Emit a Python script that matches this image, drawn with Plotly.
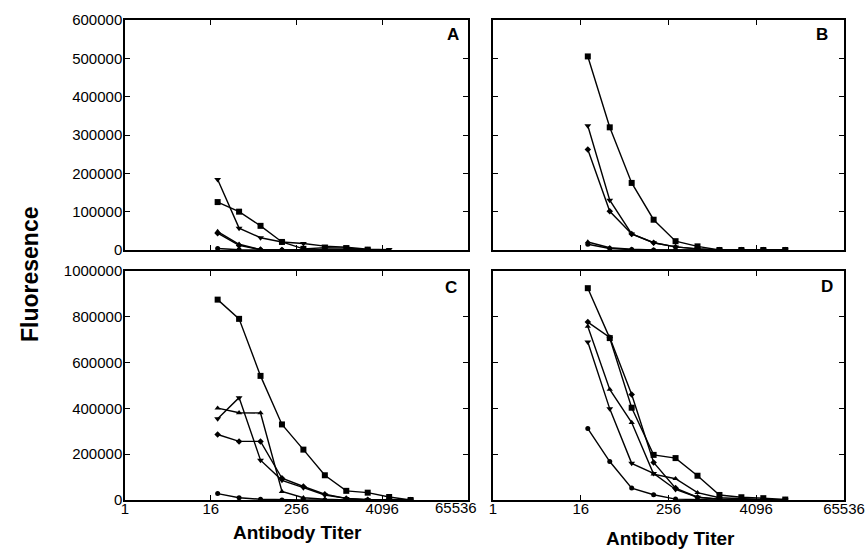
import math
import plotly.graph_objects as go

# ---------------- data ----------------
titers_A = [20, 40, 80, 160, 320, 640, 1280, 2560, 5120]
titers = [20, 40, 80, 160, 320, 640, 1280, 2560, 5120, 10240]

A_square = [125000, 100000, 63000, 21000, 3000, 6000, 5000, 1000]
A_tri_down = [184000, 57000, 32000, 21000, 17000, 10000, 7000, 2000, 1000]
A_tri_up = [48000, 15000, 1000, 0, 0, 0, 0, 0]
A_diamond = [44000, 12000, 1000, 0, 0, 0, 0, 0]
A_circle = [4000, 500, 0, 0, 0, 0, 0, 0]

B_square = [505000, 320000, 175000, 79000, 23000, 9500, 0, 0, 0, 0]
B_tri_down = [324000, 130000, 42000, 19000, 8000, 3000, 0, 0, 0, 0]
B_diamond = [262000, 101000, 42000, 19000, 8000, 3000, 0, 0, 0, 0]
B_tri_up = [21000, 6000, 2000, 0, 0, 0, 0, 0, 0, 0]
B_circle = [15000, 4000, 1000, 0, 0, 0, 0, 0, 0, 0]

C_square = [875000, 791000, 542000, 330000, 220000, 108000, 40000, 32000, 13000, 0]
C_tri_down = [355000, 447000, 174000, 86000, 54000, 22000, 7000, 1000, 0, 0]
C_tri_up = [401000, 381000, 380000, 37000, 10000, 3000, 0, 0, 0, 0]
C_diamond = [286000, 256000, 256000, 95000, 59000, 25000, 7000, 1000, 0, 0]
C_circle = [28000, 10000, 3000, 0, 0, 0, 0, 0, 0, 0]

D_square = [925000, 707000, 403000, 197000, 183000, 106000, 22000, 12000, 8000, 2000]
D_diamond = [777000, 710000, 461000, 164000, 52000, 12000, 4000, 2000, 1000, 0]
D_tri_up = [758000, 483000, 338000, 113000, 93000, 32000, 10000, 5000, 2000, 0]
D_tri_down = [690000, 398000, 160000, 116000, 46000, 12000, 4000, 2000, 1000, 0]
D_circle = [312000, 168000, 52000, 23000, 4000, 1000, 0, 0, 0, 0]

x_tick_vals = [1, 16, 256, 4096, 65536]
x_tick_text = ["1", "16", "256", "4096", "65536"]
panel_letters = ["A", "B", "C", "D"]
x_title = "Antibody Titer"
y_title = "Fluoresence"

# ---------------- figure ----------------
FONT = "Liberation Sans, Arial, sans-serif"
fig = go.Figure()

marker_style = {
    "square": dict(symbol="square", size=6),
    "triangle-down": dict(symbol="triangle-down", size=6),
    "triangle-up": dict(symbol="triangle-up", size=5.5),
    "diamond": dict(symbol="diamond", size=5),
    "circle": dict(symbol="circle", size=5),
}

def add(xs, ys, sym, axis_idx):
    suffix = "" if axis_idx == 1 else str(axis_idx)
    fig.add_trace(go.Scatter(
        x=xs[:len(ys)], y=ys, mode="lines+markers",
        line=dict(color="black", width=1.4),
        marker=dict(color="black", **marker_style[sym]),
        xaxis="x" + suffix, yaxis="y" + suffix, showlegend=False,
        hoverinfo="x+y",
    ))

# panel A
add(titers_A, A_circle, "circle", 1)
add(titers_A, A_diamond, "diamond", 1)
add(titers_A, A_tri_up, "triangle-up", 1)
add(titers_A, A_square, "square", 1)
add(titers_A, A_tri_down, "triangle-down", 1)
# panel B
add(titers, B_circle, "circle", 2)
add(titers, B_tri_up, "triangle-up", 2)
add(titers, B_diamond, "diamond", 2)
add(titers, B_tri_down, "triangle-down", 2)
add(titers, B_square, "square", 2)
# panel C
add(titers, C_circle, "circle", 3)
add(titers, C_diamond, "diamond", 3)
add(titers, C_tri_up, "triangle-up", 3)
add(titers, C_tri_down, "triangle-down", 3)
add(titers, C_square, "square", 3)
# panel D
add(titers, D_circle, "circle", 4)
add(titers, D_tri_down, "triangle-down", 4)
add(titers, D_tri_up, "triangle-up", 4)
add(titers, D_diamond, "diamond", 4)
add(titers, D_square, "square", 4)

W, H = 866, 550
left_dom = [125 / W, 468 / W]
right_dom = [493 / W, 844 / W]
top_dom = [1 - 250 / H, 1 - 20 / H]
bot_dom = [1 - 500 / H, 1 - 271 / H]

xrange_log = [0, math.log10(65536)]

def xaxis(dom, anchor, show_labels, ticktext):
    return dict(
        type="log", range=xrange_log, domain=dom, anchor=anchor, automargin=False,
        tickvals=x_tick_vals, ticktext=ticktext, showticklabels=show_labels,
        ticks="inside", ticklen=5, tickwidth=1, tickcolor="black",
        ticklabelstandoff=-6,
        showline=True, linecolor="black", linewidth=1.5, mirror="ticks",
        showgrid=False, zeroline=False,
        tickfont=dict(family=FONT, size=15, color="black"),
    )

def yaxis(dom, anchor, rng, dtick, show_labels):
    return dict(
        range=rng, domain=dom, anchor=anchor, dtick=dtick, tick0=0, automargin=False,
        showticklabels=show_labels, tickformat="d",
        ticks="inside", ticklen=5, tickwidth=1, tickcolor="black",
        ticklabelstandoff=-2,
        showline=True, linecolor="black", linewidth=1.5, mirror="ticks",
        showgrid=False, zeroline=False,
        tickfont=dict(family=FONT, size=15, color="black"),
    )

# panel C: its last label sits a little left of the tick (drawn as an annotation below)
c_ticktext = x_tick_text[:-1] + [""]

fig.update_layout(
    width=W, height=H,
    margin=dict(l=0, r=0, t=0, b=0, autoexpand=False),
    paper_bgcolor="white", plot_bgcolor="white",
    showlegend=False,
    font=dict(family=FONT, color="black"),
    xaxis=xaxis(left_dom, "y", False, x_tick_text),
    yaxis=yaxis(top_dom, "x", [0, 600000], 100000, True),
    xaxis2=xaxis(right_dom, "y2", False, x_tick_text),
    yaxis2=yaxis(top_dom, "x2", [0, 600000], 100000, False),
    xaxis3=xaxis(left_dom, "y3", True, c_ticktext),
    yaxis3=yaxis(bot_dom, "x3", [0, 1000000], 200000, True),
    xaxis4=xaxis(right_dom, "y4", True, x_tick_text),
    yaxis4=yaxis(bot_dom, "x4", [0, 1000000], 200000, False),
)

letter_pos = [(453, 35), (822, 35), (451, 287), (827, 286)]
annotations = []
for letter, (px, py) in zip(panel_letters, letter_pos):
    annotations.append(dict(
        text="<b>%s</b>" % letter, x=px / W, y=1 - py / H, xref="paper", yref="paper",
        showarrow=False, xanchor="center", yanchor="middle",
        font=dict(family=FONT, size=17, color="black"),
    ))
annotations.append(dict(
    text=x_tick_text[-1], x=math.log10(x_tick_vals[-1]), xref="x3",
    y=1 - 507 / H, yref="paper", xshift=-12,
    showarrow=False, xanchor="center", yanchor="middle",
    font=dict(family=FONT, size=15, color="black"),
))
annotations.append(dict(
    text="<b>%s</b>" % x_title, x=297 / W, y=1 - 532 / H, xref="paper", yref="paper",
    showarrow=False, xanchor="center", yanchor="middle",
    font=dict(family=FONT, size=19, color="black"),
))
annotations.append(dict(
    text="<b>%s</b>" % x_title, x=670 / W, y=1 - 538 / H, xref="paper", yref="paper",
    showarrow=False, xanchor="center", yanchor="middle",
    font=dict(family=FONT, size=19, color="black"),
))
annotations.append(dict(
    text="<b>%s</b>" % y_title, x=30 / W, y=1 - 274 / H, xref="paper", yref="paper",
    showarrow=False, xanchor="center", yanchor="middle", textangle=-90,
    font=dict(family=FONT, size=23, color="black"),
))
fig.update_layout(annotations=annotations)

fig.write_html(
    "out.html",
    config={"displayModeBar": False},
    post_script="document.body.style.margin='0';document.body.style.padding='0';",
)
